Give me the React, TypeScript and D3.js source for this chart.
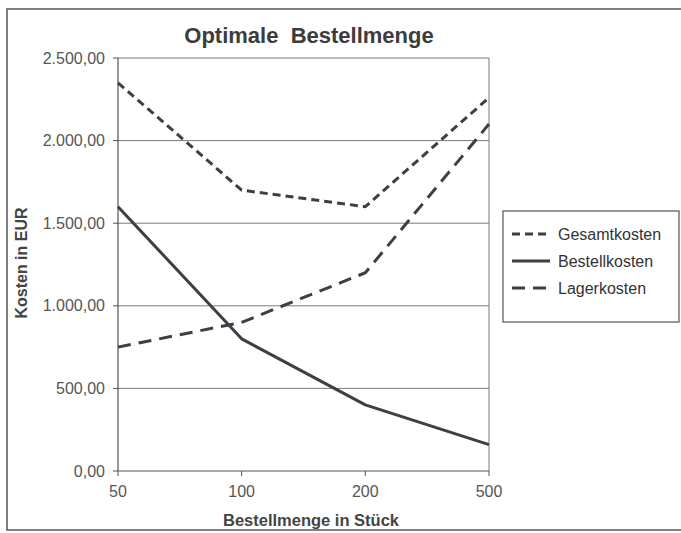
import { useEffect } from 'react'
import * as d3 from 'd3'

const categories = ['50', '100', '200', '500']
const gesamtkosten = [2350, 1700, 1600, 2260]
const bestellkosten = [1600, 800, 400, 160]
const lagerkosten = [750, 900, 1200, 2100]
const yTicks = [0, 500, 1000, 1500, 2000, 2500]

const series = [
  { name: 'Gesamtkosten', values: gesamtkosten, dash: '8 5' },
  { name: 'Bestellkosten', values: bestellkosten, dash: '' },
  { name: 'Lagerkosten', values: lagerkosten, dash: '13 8' },
]

const font = 'Liberation Sans, Arial, sans-serif'
const lineColor = '#3d3e46'
const gridColor = '#7a7a7a'
const textColor = '#555'

export default function App() {
  useEffect(() => {
    document.body.style.margin = '0'
  }, [])

  const plot = { left: 118, right: 489, top: 58, bottom: 471 }

  const x = d3.scalePoint<string>()
    .domain(categories)
    .range([plot.left, plot.right])

  const y = d3.scaleLinear()
    .domain([0, 2500])
    .range([plot.bottom, plot.top])

  // German number format: 2.500,00
  const fmt = (v: number) => {
    const s = d3.format(',.2f')(v)
    return s.replace(/,/g, 'X').replace('.', ',').replace(/X/g, '.')
  }

  const line = d3.line<number>()
    .x((_, i) => x(categories[i])!)
    .y(d => y(d))

  return (
    <svg width={681} height={533} style={{ display: 'block', background: '#fff' }}>
      <rect x={7} y={9} width={700} height={521} fill="#fff" stroke="#555" strokeWidth={1.5} />

      <text x={309} y={43} textAnchor="middle" fontFamily={font} fontSize={22} fontWeight="bold" fill="#3c3c3c">
        {'Optimale\u00a0 Bestellmenge'}
      </text>

      {/* grid */}
      {yTicks.filter(t => t > 0).map(t => (
        <line key={t} x1={plot.left} x2={plot.right} y1={y(t)} y2={y(t)} stroke={gridColor} strokeWidth={1} />
      ))}
      <line x1={plot.right} x2={plot.right} y1={plot.top} y2={plot.bottom} stroke={gridColor} strokeWidth={1} />

      {/* y axis */}
      <line x1={plot.left} x2={plot.left} y1={plot.top} y2={plot.bottom} stroke="#555" strokeWidth={1.2} />
      {yTicks.map(t => (
        <g key={t}>
          <line x1={plot.left - 5} x2={plot.left} y1={y(t)} y2={y(t)} stroke="#555" />
          <text x={plot.left - 13} y={y(t)} dy="0.35em" textAnchor="end" fontFamily={font} fontSize={16} fill={textColor}>
            {fmt(t)}
          </text>
        </g>
      ))}

      {/* x axis */}
      <line x1={plot.left} x2={plot.right} y1={plot.bottom} y2={plot.bottom} stroke="#555" strokeWidth={1.2} />
      {categories.map(c => (
        <g key={c}>
          <line x1={x(c)} x2={x(c)} y1={plot.bottom} y2={plot.bottom + 5} stroke="#555" />
          <text x={x(c)} y={plot.bottom + 20} dy="0.35em" textAnchor="middle" fontFamily={font} fontSize={16} fill={textColor}>
            {c}
          </text>
        </g>
      ))}

      <text x={311} y={520} dy="0.35em" textAnchor="middle" fontFamily={font} fontSize={16.5} fontWeight="bold" fill="#444">
        Bestellmenge in Stück
      </text>
      <text transform={`translate(21,${263}) rotate(-90)`} dy="0.35em" textAnchor="middle" fontFamily={font} fontSize={16} fontWeight="bold" fill="#444">
        Kosten in EUR
      </text>

      {/* lines */}
      {series.map(s => (
        <path key={s.name} d={line(s.values)!} fill="none" stroke={lineColor} strokeWidth={3}
          strokeDasharray={s.dash || undefined} strokeLinejoin="round" />
      ))}

      {/* legend */}
      <rect x={503} y={211} width={176} height={111} fill="#fff" stroke="#555" strokeWidth={1.2} />
      {series.map((s, i) => {
        const ly = 234 + i * 27
        return (
          <g key={s.name}>
            <line x1={512} x2={550} y1={ly} y2={ly} stroke={lineColor} strokeWidth={3}
              strokeDasharray={s.dash || undefined} />
            <text x={558} y={ly} dy="0.35em" fontFamily={font} fontSize={16} fill="#333">
              {s.name}
            </text>
          </g>
        )
      })}
    </svg>
  )
}
